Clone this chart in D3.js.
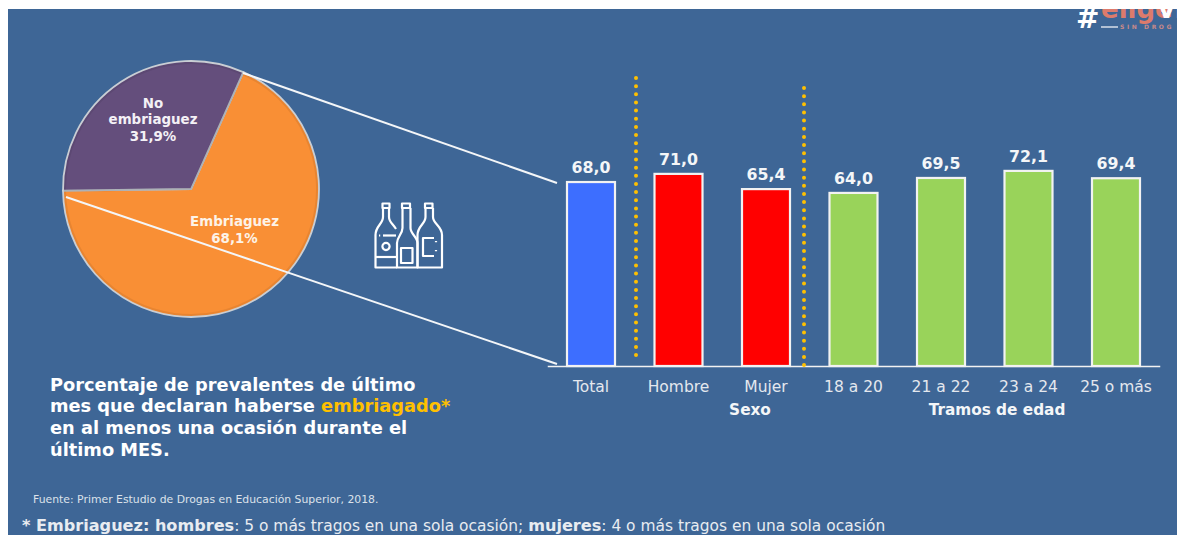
<!DOCTYPE html>
<html><head><meta charset="utf-8">
<script src="https://cdnjs.cloudflare.com/ajax/libs/d3/7.8.5/d3.min.js"></script>
<style>html,body{margin:0;padding:0;background:#fff;overflow:hidden}svg{display:block}text{font-family:"DejaVu Sans",sans-serif}</style>
</head><body><svg id="c" width="1178" height="535"></svg>
<script>
const categories=["Total","Hombre","Mujer","18 a 20","21 a 22","23 a 24","25 o más"];
const values=[68.0,71.0,65.4,64.0,69.5,72.1,69.4];
const barGroups=["total","sexo","sexo","edad","edad","edad","edad"];
const pieLabels=["Embriaguez","No embriaguez"];
const pieValues=[68.1,31.9];
const groupLabels=["Sexo","Tramos de edad"];
const fmt=v=>v.toFixed(1).replace(".",",");
const cond="'DejaVu Sans Condensed','DejaVu Sans',sans-serif";

const svg=d3.select("#c");
svg.append("rect").attr("width",1178).attr("height",535).attr("fill","#fff");
svg.append("rect").attr("x",8).attr("y",9).attr("width",1169).attr("height",526).attr("fill","#3E6696");

// logo (clipped by the white band at the top)
const logo=svg.append("g");
logo.append("text").attr("x",1076).attr("y",28).attr("font-size",28).attr("font-weight",700).attr("fill","#fff").text("#");
logo.append("text").attr("x",1101).attr("y",18).attr("font-size",26).attr("font-weight",700).attr("fill","#DD7B6C").attr("font-family","Lato").text("elige");
logo.append("text").attr("x",1158).attr("y",18).attr("font-size",26).attr("font-weight",700).attr("fill","#fff").attr("font-family","Lato").text("vi");
logo.append("line").attr("x1",1101).attr("x2",1118).attr("y1",27).attr("y2",27).attr("stroke","#d8dfe8").attr("stroke-width",1.5);
logo.append("text").attr("x",1120).attr("y",29).attr("font-size",6).attr("font-weight",700).attr("letter-spacing",2.6).attr("fill","#C98A8A").text("SIN DROG");
svg.append("rect").attr("width",1178).attr("height",9).attr("fill","#fff");

// pie
const cx=191,cy=189,R=128;
const startA=24.1*Math.PI/180;
const pie=d3.pie().sort(null).startAngle(startA).endAngle(startA+2*Math.PI);
const pieColor=d3.scaleOrdinal().domain(pieLabels).range(["#F98F35","#644E7C"]);
const pieData=pie(pieValues);
const gp=svg.append("g").attr("transform",`translate(${cx},${cy})`);
gp.selectAll("path.s").data(pieData).join("path").attr("class","s")
  .attr("d",d3.arc().innerRadius(0).outerRadius(R))
  .attr("fill",(d,i)=>pieColor(pieLabels[i])).attr("stroke","#C9CED4").attr("stroke-width",1.8);
gp.selectAll("path.e").data(pieData).join("path").attr("class","e")
  .attr("d",d3.arc().innerRadius(0).outerRadius(R-2))
  .attr("fill","none").attr("stroke","#000").attr("stroke-opacity",.07).attr("stroke-width",2);
const pieText=svg.append("g").attr("fill","#F4F1F6").attr("font-size",13.4).attr("font-weight",700).attr("text-anchor","middle");
[["No",153,108],["embriaguez",153,124],[fmt(pieValues[1])+"%",153,141]].forEach(t=>pieText.append("text").attr("x",t[1]).attr("y",t[2]).text(t[0]));
[[pieLabels[0],234.5,226],[fmt(pieValues[0])+"%",234.5,242.5]].forEach(t=>pieText.append("text").attr("x",t[1]).attr("y",t[2]).attr("fill","#FDF3E8").text(t[0]));

// connectors
[[243,73,557,183],[66,197,557,364]].forEach(l=>svg.append("line").attr("x1",l[0]).attr("y1",l[1]).attr("x2",l[2]).attr("y2",l[3]).attr("stroke","#F4F6F8").attr("stroke-width",2));

// bars
const x=d3.scaleBand().domain(categories).range([547.25,1159.75]).paddingInner(0.42857).paddingOuter(0.21429);
const y=d3.scaleLinear().domain([0,100]).range([366,94]);
const barColor=d3.scaleOrdinal().domain(["total","sexo","edad"]).range(["#3D6EFF","#FF0000","#99D35A"]);
const gb=svg.append("g");
gb.selectAll("rect").data(values).join("rect")
  .attr("x",(d,i)=>x(categories[i])+1).attr("width",x.bandwidth()-2)
  .attr("y",d=>y(d)+1).attr("height",d=>y(0)-y(d)-1)
  .attr("fill",(d,i)=>barColor(barGroups[i])).attr("stroke","#F2F2F2").attr("stroke-width",2.2);
gb.selectAll("text").data(values).join("text")
  .attr("x",(d,i)=>x(categories[i])+x.bandwidth()/2).attr("y",d=>y(d)-8)
  .attr("text-anchor","middle").attr("font-size",15.8).attr("font-weight",700).attr("font-family",cond).attr("fill","#F4F6F8").text(fmt);

// x axis
const ax=svg.append("g").attr("transform","translate(0,366)").call(d3.axisBottom(x).tickSize(0).tickPadding(15));
ax.select(".domain").attr("stroke","#F2F2F2").attr("stroke-width",1.5);
ax.selectAll("text").attr("font-size",15.5).attr("fill","#E4E8EE").attr("font-family",cond);

// group labels
[[groupLabels[0],750],[groupLabels[1],997]].forEach(t=>svg.append("text").attr("x",t[1]).attr("y",415).attr("text-anchor","middle").attr("font-size",15.3).attr("font-weight",700).attr("font-family",cond).attr("fill","#F4F6F8").text(t[0]));

// dotted separators
[[636,78,358],[804,88,366]].forEach(s=>svg.append("line").attr("x1",s[0]).attr("x2",s[0]).attr("y1",s[1]).attr("y2",s[2]).attr("stroke","#FFC000").attr("stroke-width",4).attr("stroke-linecap","round").attr("stroke-dasharray","0 8.15"));

// bottles icon
const ic=svg.append("g").attr("fill","none").attr("stroke","#fff").attr("stroke-width",2.2).attr("stroke-linejoin","round");
const icon=[
"M382.5 203.5h7v4.5h-7z","M383 208v9c0 7-7.5 9-7.5 18v32.5h21.5",
"M389 208v9c0 5 4 7 7 12","M375.5 257h21","M379 235.5h1.2","M383 235.5h13",
"M402 203.5h8v4.5h-8z","M402.5 208v20c0 6-5.5 9-5.5 15v24.5h20.5V243c0-6-7-9-7-15v-20",
"M401 248h11.5v15H401z",
"M425 203.5h7.5v4.5H425z","M425.5 208v9c0 7-8 9-8 18v32.5H442V235c0-9-9-11-9-18v-9",
"M434 238h-11v18h11","M436 241v1.2M436 250v1.2"];
icon.forEach(d=>ic.append("path").attr("d",d));
ic.append("circle").attr("cx",386).attr("cy",246.5).attr("r",3.6);

// heading
const lines=[[["Porcentaje de prevalentes de último","#fff"]],[["mes que declaran haberse ","#fff"],["embriagado*","#FFC000"]],[["en al menos una ocasión durante el","#fff"]],[["último MES.","#fff"]]];
lines.forEach((ln,i)=>{const t=svg.append("text").attr("x",50).attr("y",[391,412,434,456][i]).attr("font-size",17.8).attr("font-weight",700);
 ln.forEach(s=>t.append("tspan").attr("fill",s[1]).text(s[0]));});

// source
svg.append("text").attr("x",33).attr("y",503).attr("font-size",10.85).attr("font-family","'Open Sans'").attr("fill","#DCE2EA").text("Fuente: Primer Estudio de Drogas en Educación Superior, 2018.");
// footnote
const fn=svg.append("text").attr("x",22).attr("y",531).attr("fill","#E8ECF1");
[["* Embriaguez: hombres",700,16.1],[": 5 o más tragos en una sola ocasión; ",400,15.45],["mujeres",700,16.1],[": 4 o más tragos en una sola ocasión",400,15.45]].forEach(s=>fn.append("tspan").attr("font-weight",s[1]).attr("font-size",s[2]).text(s[0]));
</script></body></html>
